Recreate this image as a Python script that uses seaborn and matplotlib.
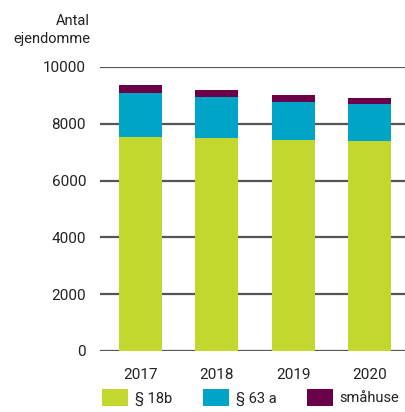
import matplotlib
matplotlib.use("Agg")
import matplotlib.pyplot as plt
from matplotlib.patches import Patch
import seaborn as sns
import pandas as pd
import numpy as np

# Number of properties per year, split by category
years = ["2017", "2018", "2019", "2020"]
par_18b = [7535, 7500, 7430, 7395]
par_63a = [1550, 1444, 1338, 1300]
smaahuse = [280, 246, 246, 210]

labels = ["§ 18b", "§ 63 a", "småhuse"]
colors = ["#c2d82f", "#00a4c7", "#6c0048"]

sns.set_theme(style="white")
plt.rcParams["font.family"] = ["Roboto", "DejaVu Sans"]
plt.rcParams["font.size"] = 10.5

df = pd.DataFrame({"year": years, "a": par_18b, "b": par_63a, "c": smaahuse})
df["lvl1"] = df["a"]
df["lvl2"] = df["a"] + df["b"]
df["lvl3"] = df["a"] + df["b"] + df["c"]

fig = plt.figure(figsize=(4.05, 4.12), dpi=100)
ax = fig.add_axes([100 / 405, 1 - 351 / 412, 1 - 100 / 405, (351 - 67) / 412])

# Stack by overdrawing cumulative totals, tallest first
for col, c in zip(["lvl3", "lvl2", "lvl1"], colors[::-1]):
    sns.barplot(data=df, x="year", y=col, color=c, width=0.566,
                saturation=1, ax=ax, linewidth=0, edgecolor="none")
for p in ax.patches:
    p.set_zorder(3)

ax.set_ylim(0, 10000)
ax.set_xlim(-0.533, 3.467)
ax.set_yticks(np.arange(0, 10001, 2000))
ax.set_xlabel("")
ax.set_ylabel("")
for s in ax.spines.values():
    s.set_visible(False)
ax.set_axisbelow(True)
ax.yaxis.grid(True, color="#555555", linewidth=1.6)
ax.tick_params(axis="y", length=0, pad=10, labelcolor="#222222")
ax.tick_params(axis="x", length=0, pad=12, labelcolor="#222222")

fig.text(90 / 405, 1 - 14 / 412, "Antal\nejendomme", ha="right", va="top",
         color="#222222", fontsize=10.5, linespacing=1.4)

handles = [Patch(facecolor=c, edgecolor="none") for c in colors]
fig.legend(handles, labels, loc="upper left", bbox_to_anchor=(102 / 405, 1 - 389 / 412),
           ncol=3, frameon=False, borderpad=0, borderaxespad=0,
           handlelength=1.8, handleheight=1.45, handletextpad=0.45,
           columnspacing=2.1, fontsize=10.5, labelcolor="#222222")

fig.savefig("out.png", dpi=100)
